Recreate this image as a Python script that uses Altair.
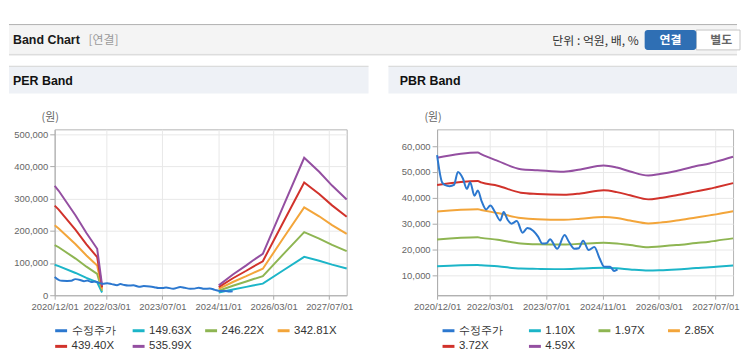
import altair as alt
import pandas as pd

# ---------------- data ----------------
price_dates = ["2020/12/01", "2021/01/13", "2021/02/05", "2021/03/20", "2021/04/26", "2021/05/30",
               "2021/07/12", "2021/08/15", "2021/09/13", "2021/10/20", "2021/11/18", "2021/12/22",
               "2022/01/28", "2022/03/06", "2022/04/15", "2022/05/31", "2022/06/29", "2022/08/02",
               "2022/09/05", "2022/10/21", "2022/12/09", "2023/01/20", "2023/03/13", "2023/04/22",
               "2023/05/29", "2023/07/05", "2023/08/03", "2023/10/05", "2023/12/07", "2024/01/13",
               "2024/03/01", "2024/04/08", "2024/05/15", "2024/07/02", "2024/08/20", "2024/10/05",
               "2024/11/14", "2025/01/04", "2025/02/07", "2025/03/08"]
price_values = [56500, 46000, 45000, 44500, 45000, 50000, 47500, 43500, 46000, 40800,
                42800, 38500, 35500, 37000, 34500, 31200, 34500, 31500, 30000, 31000,
                26500, 28300, 27200, 25000, 22300, 22400, 24000, 20300, 25600, 23000,
                20300, 20500, 23400, 19800, 21000, 16500, 13300, 13300, 11700, 12300]

# PER band: two segments (no band while earnings were negative)
per_dates_a = ["2020/12/01", "2021/01/05", "2021/06/02", "2021/09/05", "2021/12/08", "2022/01/20"]
per_dates_b = ["2024/11/06", "2025/03/10", "2025/07/05", "2025/09/01", "2025/11/27",
               "2026/05/26", "2026/11/24", "2027/04/04", "2027/07/26", "2027/12/01"]
per_149_a = [94700, 90500, 69100, 53900, 40200, 8400]
per_246_a = [155900, 149000, 113800, 88600, 66200, 13800]
per_342_a = [217000, 207400, 158400, 123400, 92200, 19200]
per_439_a = [278100, 265800, 203000, 158200, 118200, 24600]
per_535_a = [339300, 324300, 247600, 193000, 144200, 30000]
per_149_b = [8500, 18000, 25900, 30100, 35900, 77500, 119100, 107000, 95000, 83000]
per_246_b = [14000, 29500, 42600, 49500, 59100, 127500, 196000, 176000, 156300, 136700]
per_342_b = [19500, 41100, 59300, 68900, 82300, 177600, 272900, 245100, 217700, 190300]
per_439_b = [25000, 52700, 76000, 88300, 105500, 227600, 349800, 314200, 279000, 243900]
per_535_b = [30600, 64300, 92700, 107700, 128600, 277600, 426700, 383200, 340400, 297500]

# PBR band
pbr_dates = ["2020/12/01", "2021/11/18", "2021/12/16", "2022/05/08", "2022/11/24", "2023/04/16",
             "2023/12/01", "2024/04/22", "2024/11/08", "2025/03/02", "2025/06/25", "2025/11/29",
             "2026/03/09", "2026/07/30", "2027/01/17", "2027/05/12", "2027/07/08", "2027/12/01"]
pbr_110 = [13500, 14000, 13900, 13500, 12600, 12500, 12400, 12600, 12900, 12700, 12300, 11900,
           12000, 12300, 12800, 13100, 13300, 13800]
pbr_197 = [23900, 24700, 24500, 23800, 22300, 22000, 21900, 22200, 22600, 22300, 21700, 20900,
           21200, 21700, 22500, 23000, 23400, 24300]
pbr_285 = [34700, 35600, 35300, 34100, 32200, 31700, 31500, 31900, 32600, 32200, 31200, 30100,
           30400, 31200, 32400, 33200, 33600, 34800]
pbr_372 = [45000, 46500, 46000, 44700, 42000, 41500, 41200, 41700, 42900, 42200, 41000, 39400,
           39900, 41000, 42500, 43500, 44100, 45700]
pbr_459 = [55500, 57500, 56900, 54300, 51100, 50700, 50100, 51000, 52500, 51700, 50200, 48600,
           49200, 50400, 52300, 53300, 54000, 55900]

per_names = ["수정주가", "149.63X", "246.22X", "342.81X", "439.40X", "535.99X"]
pbr_names = ["수정주가", "1.10X", "1.97X", "2.85X", "3.72X", "4.59X"]
series_colors = ["#2c78cf", "#1cb5c8", "#8eb552", "#f3a53a", "#d1322b", "#944fa1"]

x_ticks = [(2020, 12, 1), (2022, 3, 1), (2023, 7, 1), (2024, 11, 1), (2026, 3, 1), (2027, 7, 1)]
x_domain = [(2020, 12, 1), (2027, 12, 1)]
per_y_ticks = [0, 100000, 200000, 300000, 400000, 500000]
per_y_domain = [0, 515000]
pbr_y_ticks = [10000, 20000, 30000, 40000, 50000, 60000]
pbr_y_domain = [2300, 66500]

# ---------------- styling ----------------
LATIN = "Liberation Sans"
KR = "Noto Sans CJK KR"


def dt(t):
    return alt.DateTime(year=t[0], month=t[1], date=t[2])


def frame(dates, values, series, seg):
    return pd.DataFrame({"date": dates, "value": values, "series": series, "seg": seg})


def x_enc():
    return alt.X("date:T",
                 scale=alt.Scale(domain=[dt(t) for t in x_domain], nice=False),
                 axis=alt.Axis(values=[dt(t) for t in x_ticks], format="%Y/%m/%d", title=None,
                               labelFlush=False, labelOverlap=False))


def y_enc(domain, ticks):
    return alt.Y("value:Q", scale=alt.Scale(domain=domain, nice=False, zero=False),
                 axis=alt.Axis(values=ticks, format=",.0f", title=None))


def color_enc(names, legend_x, col_pad):
    return alt.Color("series:N", sort=names,
                     scale=alt.Scale(domain=names, range=series_colors),
                     legend=alt.Legend(title=None, orient="none", legendX=legend_x, legendY=195,
                                       direction="horizontal", columns=4, symbolType="stroke",
                                       symbolSize=144, symbolStrokeWidth=3, labelFont=LATIN,
                                       labelFontSize=11.5, labelColor="#333333",
                                       columnPadding=col_pad, rowPadding=2, labelOffset=3,
                                       padding=0))


one = pd.DataFrame({"k": [0]})


def rect(x, x2, y, y2, **kw):
    return alt.Chart(one).mark_rect(**kw).encode(
        x=alt.value(x), x2=alt.value(x2), y=alt.value(y), y2=alt.value(y2))


def hrule(x, x2, y, color):
    return alt.Chart(one).mark_rule(color=color, strokeWidth=1).encode(
        x=alt.value(x), x2=alt.value(x2), y=alt.value(y))


def label(x, y, text, **kw):
    return alt.Chart(one).mark_text(baseline="middle", **kw).encode(
        x=alt.value(x), y=alt.value(y), text=alt.value(text))


# ---------------- PER panel ----------------
per_price = frame(price_dates, price_values, "수정주가", "p")
per_bands = pd.concat([
    frame(per_dates_a, per_149_a, "149.63X", "a"), frame(per_dates_b, per_149_b, "149.63X", "b"),
    frame(per_dates_a, per_246_a, "246.22X", "a"), frame(per_dates_b, per_246_b, "246.22X", "b"),
    frame(per_dates_a, per_342_a, "342.81X", "a"), frame(per_dates_b, per_342_b, "342.81X", "b"),
    frame(per_dates_a, per_439_a, "439.40X", "a"), frame(per_dates_b, per_439_b, "439.40X", "b"),
    frame(per_dates_a, per_535_a, "535.99X", "a"), frame(per_dates_b, per_535_b, "535.99X", "b"),
])

per_color = color_enc(per_names, -1, 7)
per_lines = alt.Chart(per_bands).mark_line(strokeWidth=2).encode(
    x=x_enc(), y=y_enc(per_y_domain, per_y_ticks), color=per_color, detail="seg:N")
per_price_line = alt.Chart(per_price).mark_line(strokeWidth=2, interpolate="monotone").encode(
    x=x_enc(), y=y_enc(per_y_domain, per_y_ticks), color=per_color)

# global header (lives in the first panel, spans the whole width)
header = [
    rect(-46, 687, -105, -76, color="#f4f4f4"),
    hrule(-46, 687, -105.5, "#b0b0b0"),
    hrule(-46, 687, -75.5, "#d6d6d6"),
    hrule(-46, 687, -74.5, "#ececec"),
    label(-42, -90, "Band Chart", align="left", font=LATIN, fontSize=12.5, fontWeight="bold",
          color="#1a1a1a"),
    label(34, -90, "[연결]", align="left", font=KR, fontSize=12, color="#9a9a9a"),
    label(588, -89, "단위 : 억원, 배, %", align="right", font=KR, fontSize=12, color="#333333"),
    rect(646, 690, -100, -80, color="#ffffff", stroke="#c6c6c6", strokeWidth=1),
    rect(594, 646, -100, -80, color="#2f6fb4", cornerRadius=3),
    label(620, -90, "연결", align="center", font=KR, fontSize=12, fontWeight="bold",
          color="#ffffff"),
    label(671, -90, "별도", align="center", font=KR, fontSize=12, fontWeight="bold",
          color="#666666"),
]

per_deco = [
    rect(-46, 316, -63, -36, color="#eef1f6"),
    hrule(-46, 316, -63.5, "#d2d2d2"),
    label(-42, -48.5, "PER Band", align="left", font=LATIN, fontSize=12.5, fontWeight="bold",
          color="#111111"),
    label(-4.5, -11, "(원)", align="center", font=KR, fontSize=11, color="#666666"),
]

per_panel = alt.layer(*header, *per_deco, per_lines, per_price_line).properties(
    width=294, height=167)

# ---------------- PBR panel ----------------
pbr_price = frame(price_dates, price_values, "수정주가", "p")
pbr_bands = pd.concat([
    frame(pbr_dates, pbr_110, "1.10X", "a"),
    frame(pbr_dates, pbr_197, "1.97X", "a"),
    frame(pbr_dates, pbr_285, "2.85X", "a"),
    frame(pbr_dates, pbr_372, "3.72X", "a"),
    frame(pbr_dates, pbr_459, "4.59X", "a"),
])

pbr_color = color_enc(pbr_names, 4, 16)
pbr_lines = alt.Chart(pbr_bands).mark_line(strokeWidth=2, interpolate="monotone").encode(
    x=x_enc(), y=y_enc(pbr_y_domain, pbr_y_ticks), color=pbr_color, detail="seg:N")
pbr_price_line = alt.Chart(pbr_price).mark_line(strokeWidth=2, interpolate="monotone").encode(
    x=x_enc(), y=y_enc(pbr_y_domain, pbr_y_ticks), color=pbr_color)

pbr_deco = [
    rect(-49, 302, -63, -36, color="#eef1f6"),
    hrule(-49, 302, -63.5, "#d2d2d2"),
    label(-37.5, -48.5, "PBR Band", align="left", font=LATIN, fontSize=12.5, fontWeight="bold",
          color="#111111"),
    label(-4, -11, "(원)", align="center", font=KR, fontSize=11, color="#666666"),
]

pbr_panel = alt.layer(*pbr_deco, pbr_lines, pbr_price_line).properties(width=298, height=167)

# ---------------- compose ----------------
chart = (
    alt.hconcat(per_panel, pbr_panel, spacing=91, bounds="flush")
    .resolve_scale(color="independent", x="independent", y="independent")
    .resolve_legend(color="independent")
    .properties(padding={"left": 0, "top": 14, "right": 0, "bottom": 0}, background="#ffffff")
    .configure_view(stroke="#b4b4b4", strokeWidth=1)
    .configure_axis(labelFont=LATIN, labelFontSize=9.5, labelColor="#666666",
                    domainColor="#aaaaaa", tickColor="#aaaaaa", gridColor="#e8e8e8",
                    labelPadding=2)
    .configure_axisX(tickSize=4)
    .configure_axisY(tickSize=5)
)

chart.save("out.html", embed_options={"renderer": "svg", "actions": False})
